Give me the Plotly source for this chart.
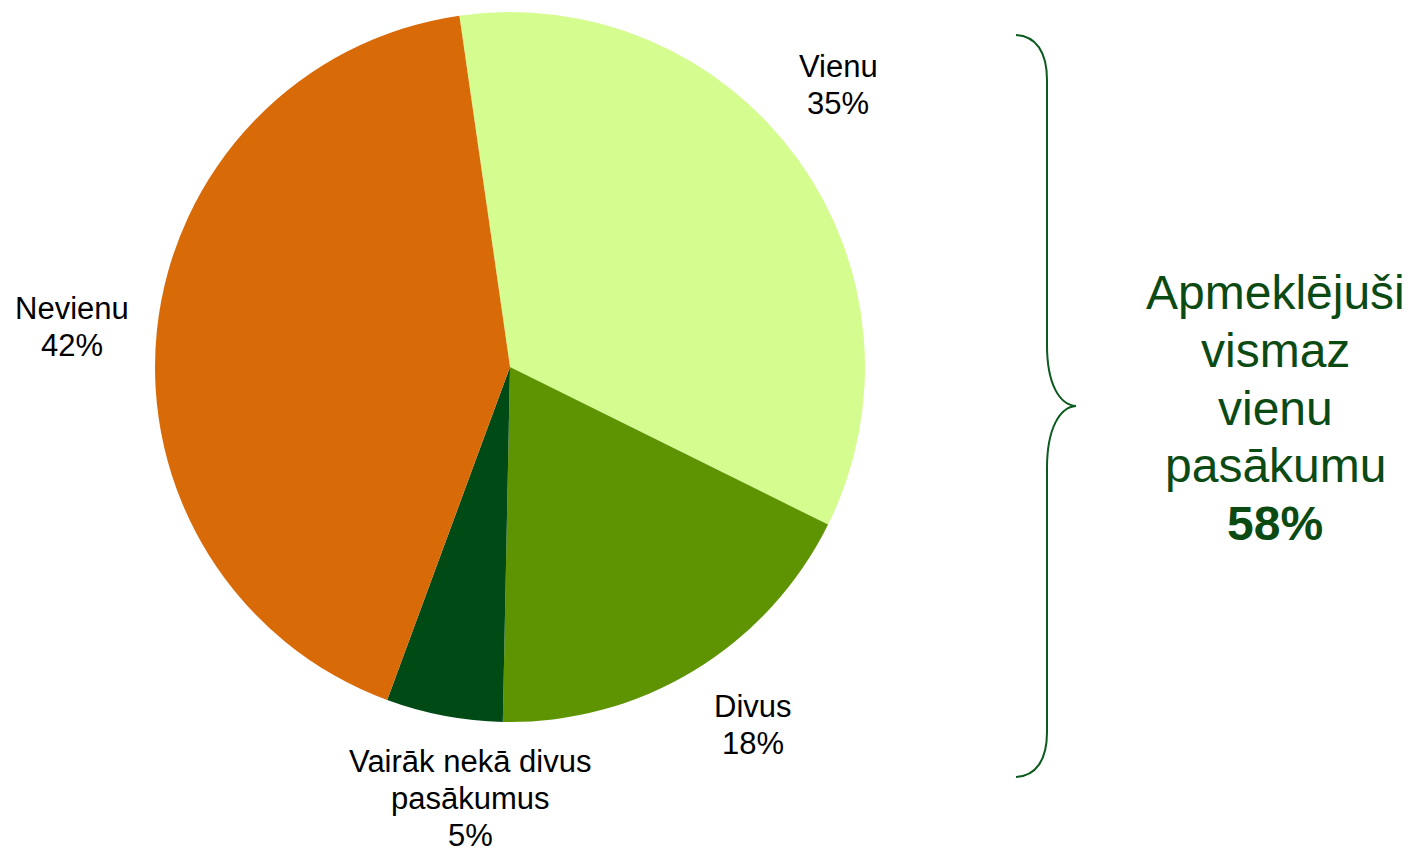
import plotly.graph_objects as go

W, H = 1408, 848

categories = ["Vienu", "Divus", "Vairāk nekā divus pasākumus", "Nevienu"]
values = [34.6, 18.0, 5.3, 42.1]
label_lines = [["Vienu"], ["Divus"], ["Vairāk nekā divus", "pasākumus"], ["Nevienu"]]
colors = ["#D4FC8F", "#5E9302", "#004A16", "#D96A08"]
summary_lines = ["Apmeklējuši", "vismaz", "vienu", "pasākumu"]
summary_value = 58

# label positions in pixels: centre x, y of first line (from top)
label_pos = [(838, 66), (753, 706), (470, 761), (72, 308)]
LINE_GAP = 37
BIG_GAP = 57.5

fig = go.Figure()
fig.add_trace(go.Pie(
    labels=categories,
    values=values,
    sort=False,
    direction="clockwise",
    rotation=-8.2,
    marker=dict(colors=colors, line=dict(width=0)),
    textinfo="none",
    hoverinfo="label+percent",
    showlegend=False,
    domain=dict(x=[(510 - 355) / W, (510 + 355) / W], y=[1 - 722 / H, 1 - 12 / H]),
))

FONT = "Liberation Sans, Arial, sans-serif"

def add_line(text, px, py, size, color):
    fig.add_annotation(
        x=px / W, y=1 - py / H, xref="paper", yref="paper",
        text=text, showarrow=False,
        xanchor="center", yanchor="middle", align="center",
        font=dict(family=FONT, size=size, color=color),
    )

for lines, v, (px, py) in zip(label_lines, values, label_pos):
    for i, t in enumerate(lines + [f"{round(v)}%"]):
        add_line(t, px, py + i * LINE_GAP, 31, "#000000")

for i, t in enumerate(summary_lines + [f"<b>{summary_value}%</b>"]):
    add_line(t, 1275, 293 + i * BIG_GAP, 48, "#0B4A12")

# curly brace (pixel coords converted to paper)
def P(x, y):
    return f"{x / W:.5f},{1 - y / H:.5f}"

brace = (
    f"M {P(1016, 35)} "
    f"C {P(1036, 36)} {P(1047, 52)} {P(1047, 80)} "
    f"L {P(1047, 345)} "
    f"C {P(1047, 385)} {P(1060, 405)} {P(1076, 406)} "
    f"C {P(1060, 407)} {P(1047, 428)} {P(1047, 468)} "
    f"L {P(1047, 732)} "
    f"C {P(1047, 760)} {P(1036, 776)} {P(1016, 777)}"
)
fig.add_shape(type="path", path=brace, xref="paper", yref="paper",
              line=dict(color="#0B5A1E", width=2))

fig.update_layout(
    width=W, height=H,
    margin=dict(l=0, r=0, t=0, b=0),
    paper_bgcolor="white", plot_bgcolor="white",
)

fig.write_html("out.html", config={"displayModeBar": False},
               post_script="document.body.style.margin='0';document.body.style.overflow='hidden';")
